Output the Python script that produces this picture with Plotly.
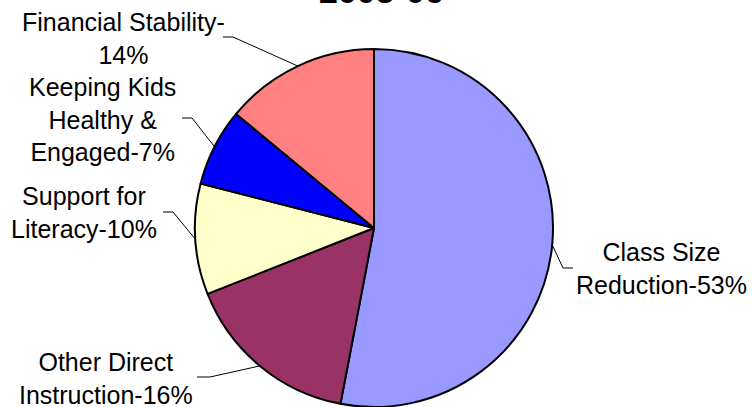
import math
import plotly.graph_objects as go

# ---- data ----
categories = ["Class Size Reduction", "Other Direct Instruction", "Support for Literacy",
              "Keeping Kids Healthy & Engaged", "Financial Stability"]
values = [53, 16, 10, 7, 14]
label_texts = ["Class Size<br>Reduction-53%", "Other Direct<br>Instruction-16%",
               "Support for<br>Literacy-10%", "Keeping Kids<br>Healthy &<br>Engaged-7%",
               "Financial Stability-<br>14%"]
colors = ["#9999FF", "#993366", "#FFFFCC", "#0000FF", "#FF8080"]
title_text = "2005-06"

# ---- layout (pixels) ----
W, H = 752, 407
CX, CY, R = 374, 228, 179
# label block centres and leader-line elbows (outer end, elbow)
label_pos = [(661, 268), (106, 378), (84, 212), (102, 119), (123, 38)]
elbows = [((573, 268), (563, 268)), ((197, 377), (210, 377)), ((163, 212), (173, 212)),
          ((182, 118), (192, 118)), ((223, 37), (233, 37))]
FONT = "Liberation Sans, Arial, sans-serif"

fig = go.Figure()
fig.add_trace(go.Pie(
    labels=categories, values=values, sort=False, direction="clockwise", rotation=0,
    marker=dict(colors=colors, line=dict(color="black", width=2)),
    textinfo="none", hoverinfo="label+percent", showlegend=False,
    domain=dict(x=[(CX - R) / W, (CX + R) / W], y=[1 - (CY + R) / H, 1 - (CY - R) / H]),
))

# leader lines: from slice mid-angle on the rim to the label elbow
total = sum(values)
cum = 0
for v, (outer, elbow) in zip(values, elbows):
    mid = (cum + v / 2) / total * 2 * math.pi
    cum += v
    ex = CX + R * math.sin(mid)
    ey = CY - R * math.cos(mid)
    fig.add_trace(go.Scatter(
        x=[outer[0], elbow[0], ex], y=[outer[1], elbow[1], ey], mode="lines",
        line=dict(color="black", width=1), hoverinfo="skip", showlegend=False,
        xaxis="x", yaxis="y"))

for (lx, ly), txt in zip(label_pos, label_texts):
    fig.add_annotation(x=lx, y=ly, xref="x", yref="y", text=txt, showarrow=False,
                       align="center", xanchor="center", yanchor="middle",
                       font=dict(family=FONT, size=25, color="black"))

fig.add_annotation(x=381, y=12, xref="x", yref="y", text="<b>" + title_text + "</b>",
                   showarrow=False, xanchor="center", yanchor="bottom",
                   font=dict(family=FONT, size=34, color="black"))

fig.update_layout(
    width=W, height=H, margin=dict(l=0, r=0, t=0, b=0),
    paper_bgcolor="white", plot_bgcolor="rgba(0,0,0,0)",
    xaxis=dict(range=[0, W], visible=False, fixedrange=True),
    yaxis=dict(range=[H, 0], visible=False, fixedrange=True),
)
fig.write_html("out.html", config={"displayModeBar": False},
               post_script="document.body.style.margin='0';document.body.style.overflow='hidden';")
